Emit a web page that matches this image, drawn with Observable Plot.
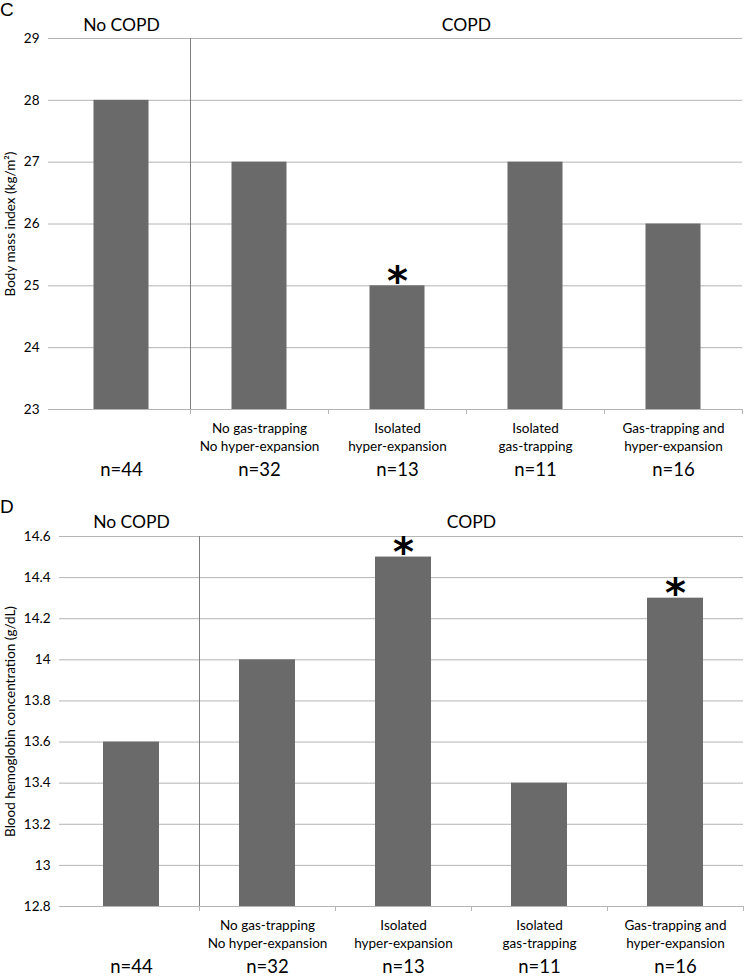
<!DOCTYPE html>
<html>
<head>
<meta charset="utf-8">
<script src="https://cdn.jsdelivr.net/npm/d3@7"></script>
<script src="https://cdn.jsdelivr.net/npm/@observablehq/plot@0.6"></script>
<style>
  html, body { margin: 0; padding: 0; background: #fff; }
  .panel { position: relative; width: 747px; height: 488px; }
  .panel .letter { position: absolute; left: 0px; font-family: "Liberation Sans", Arial, sans-serif; font-size: 19px; color: #000; }
  .panel svg { display: block; }
</style>
</head>
<body>
<div id="c" class="panel"><span class="letter" style="top:-1px">C</span></div>
<div id="d" class="panel"><span class="letter" style="top:8px">D</span></div>
<script>
// ---- data ----
const categories = ["No COPD", "No gas-trapping No hyper-expansion", "Isolated hyper-expansion", "Isolated gas-trapping", "Gas-trapping and hyper-expansion"];
const categoryLabels = ["", "No gas-trapping\nNo hyper-expansion", "Isolated\nhyper-expansion", "Isolated\ngas-trapping", "Gas-trapping and\nhyper-expansion"];
const sampleSizes = ["n=44", "n=32", "n=13", "n=11", "n=16"];
const groupNames = ["No COPD", "COPD"];
const groupStart = [0, 1];
const groupEnd = [1, 5];
const bmiValues = [28, 27, 25, 27, 26];
const bmiSignificant = [false, false, true, false, false];
const bmiTicks = [23, 24, 25, 26, 27, 28, 29];
const hemoglobinValues = [13.6, 14.0, 14.5, 13.4, 14.3];
const hemoglobinSignificant = [false, false, true, false, true];
const hemoglobinTicks = [12.8, 13, 13.2, 13.4, 13.6, 13.8, 14, 14.2, 14.4, 14.6];

function panel({values, significant, ticks, yLabel, marginLeft, marginRight, marginTop, marginBottom, inset, headerDy}) {
  const rows = categories.map((c, i) => ({
    category: c, i, value: values[i], label: categoryLabels[i], n: sampleSizes[i], sig: significant[i]
  }));
  const groups = groupNames.map((g, k) => ({name: g, from: groupStart[k], to: groupEnd[k]}));
  const ymin = ticks[0], ymax = ticks[ticks.length - 1];
  const grid = "#b4b4b4";
  return Plot.plot({
    width: 747,
    height: 488,
    marginLeft, marginRight, marginTop, marginBottom,
    style: {fontFamily: "Lato, 'Open Sans', sans-serif", fontSize: "13px", color: "#000", background: "#fff", overflow: "visible"},
    x: {type: "linear", domain: [0, categories.length], axis: null},
    y: {domain: [ymin, ymax], axis: null},
    marks: [
      Plot.gridY(ticks, {stroke: grid, strokeOpacity: 1}),
      Plot.axisY(ticks, {tickSize: 4, tickPadding: 9, stroke: grid, fontSize: 13.5, label: null, tickFormat: d => String(d)}),
      Plot.rectY(rows, {x1: "i", x2: d => d.i + 1, y1: ymin, y2: "value", insetLeft: inset, insetRight: inset, fill: "#6a6a6a"}),
      Plot.ruleY([ymin], {stroke: grid}),
      Plot.ruleX([groupEnd[0]], {y1: ymin, y2: ymax, stroke: "#7f7f7f"}),
      Plot.axisX([1, 2, 3, 4, 5], {tickSize: 5, tickFormat: () => "", stroke: grid, label: null}),
      Plot.text(rows, {x: d => d.i + 0.5, text: "label", frameAnchor: "bottom", lineAnchor: "top", dy: 11, fontSize: 13.5, lineHeight: 1.33}),
      Plot.text(rows, {x: d => d.i + 0.5, text: "n", frameAnchor: "bottom", lineAnchor: "middle", dy: 61, fontSize: 18.5}),
      Plot.text(groups, {x: d => (d.from + d.to) / 2, text: "name", frameAnchor: "top", lineAnchor: "middle", dy: headerDy, fontSize: 17.5}),
      Plot.text(rows.filter(d => d.sig), {x: d => d.i + 0.5, y: "value", text: () => "*", lineAnchor: "middle", dy: -4, fontSize: 40, fontWeight: "bold", fontFamily: "'DejaVu Sans', sans-serif"}),
      Plot.text([yLabel], {frameAnchor: "left", textAnchor: "middle", rotate: -90, dx: -(marginLeft - 10), fontSize: 13.5})
    ]
  });
}

document.getElementById("c").appendChild(panel({
  values: bmiValues, significant: bmiSignificant, ticks: bmiTicks,
  yLabel: "Body mass index (kg/m²)",
  marginLeft: 52, marginRight: 5, marginTop: 38, marginBottom: 79, inset: 41.5, headerDy: -13
}));
document.getElementById("d").appendChild(panel({
  values: hemoglobinValues, significant: hemoglobinSignificant, ticks: hemoglobinTicks,
  yLabel: "Blood hemoglobin concentration (g/dL)",
  marginLeft: 63, marginRight: 4, marginTop: 48, marginBottom: 70, inset: 40, headerDy: -14
}));
</script>
</body>
</html>
